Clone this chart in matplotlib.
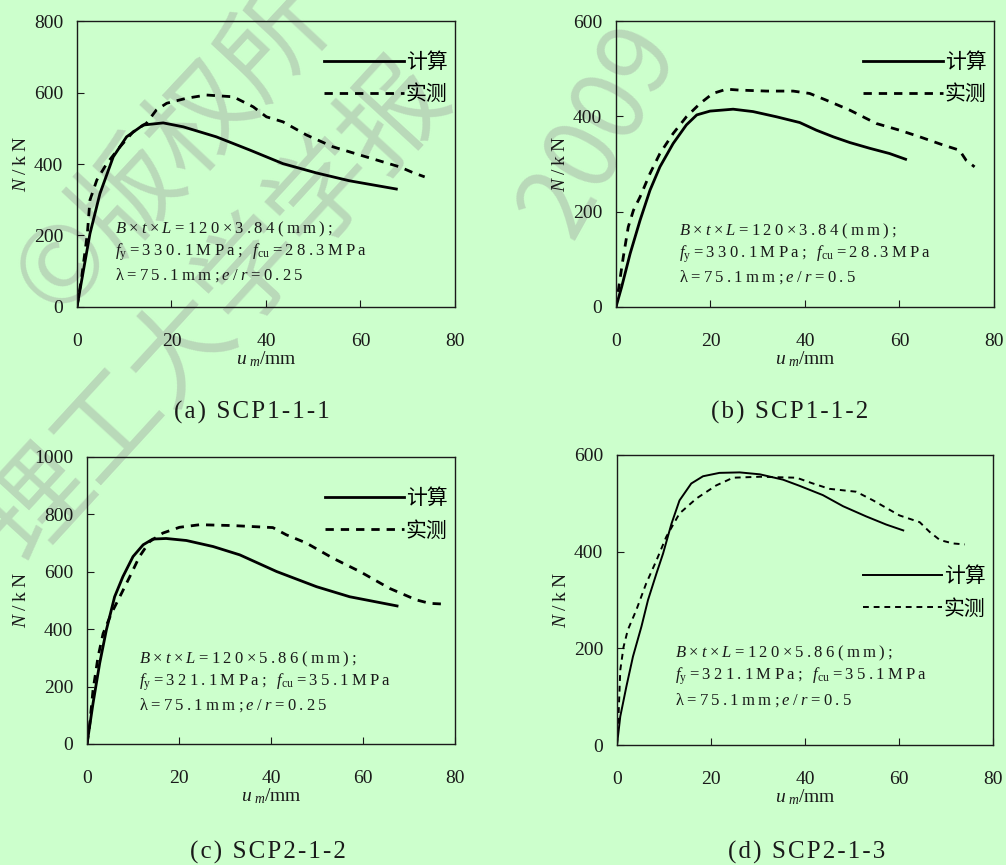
import re
import matplotlib
matplotlib.use("Agg")
import matplotlib.pyplot as plt

plt.rcParams['font.family'] = ['Liberation Serif', 'Noto Sans CJK SC']
plt.rcParams['mathtext.fontset'] = 'custom'
plt.rcParams['mathtext.rm'] = 'Liberation Serif'
plt.rcParams['mathtext.it'] = 'Liberation Serif:italic'
plt.rcParams['axes.unicode_minus'] = False

BG = '#ccffcc'
INK = '#1a1a1a'

# (a) SCP1-1-1
a_calc_x = [0, 2.75, 4.86, 7.68, 10.5, 14.0, 18.25, 22.5, 29.5, 36.6, 43.6, 50.7, 57.7, 67.6]
a_calc_y = [0, 205, 317, 420, 476, 509, 515, 504, 476, 439, 401, 375, 353, 330]
a_test_x = [0, 1.0, 2.2, 2.75, 4.2, 6.3, 9.1, 11.9, 14.7, 16.8, 19.0, 23.2, 27.4, 33.1, 37.3,
            40.1, 43.6, 48.6, 54.2, 61.2, 68.3, 71.1, 73.6]
a_test_y = [0, 84, 205, 299, 355, 401, 448, 490, 514, 551, 570, 584, 593, 588, 560,
            532, 518, 481, 448, 420, 392, 376, 364]

# (b) SCP1-1-2
b_calc_x = [0, 1.2, 3.0, 5.1, 7.2, 9.3, 12.1, 14.9, 17.1, 19.9, 24.8, 29.0, 34.0, 38.9,
            42.4, 46.0, 49.5, 53.7, 57.9, 61.3]
b_calc_y = [0, 42, 112, 182, 245, 294, 343, 382, 403, 411, 415, 410, 399, 387,
            371, 357, 345, 333, 322, 310]
b_test_x = [0, 0.5, 1.55, 2.6, 3.7, 5.1, 7.2, 9.3, 12.1, 14.9, 17.8, 20.5, 23.4, 26.2,
            31.9, 37.5, 41.0, 44.5, 49.5, 55.1, 60.0, 64.3, 69.2, 72.7, 74.1, 75.9]
b_test_y = [0, 35, 105, 168, 203, 231, 280, 322, 364, 399, 427, 448, 457, 455,
            453, 453, 448, 434, 413, 385, 371, 357, 340, 329, 308, 294]

# (c) SCP2-1-2
c_calc_x = [0, 1.3, 2.75, 4.2, 6.0, 7.8, 10.0, 12.2, 14.3, 17.2, 21.6, 27.4, 33.2, 41.2,
            49.9, 57.1, 67.4]
c_calc_y = [0, 141, 281, 397, 513, 583, 653, 694, 714, 716, 709, 688, 659, 601,
            548, 513, 481]
c_test_x = [0, 0.6, 1.3, 2.4, 3.5, 5.3, 7.5, 9.3, 11.4, 13.6, 16.5, 20.1, 24.5, 31.7,
            40.4, 43.3, 47.7, 53.5, 59.3, 65.8, 71.6, 74.5, 78.1]
c_test_y = [0, 71, 187, 304, 385, 455, 525, 583, 653, 705, 735, 755, 764, 761,
            754, 729, 700, 647, 601, 542, 502, 490, 487]

# (d) SCP2-1-3
d_calc_x = [0, 0.7, 2.0, 3.4, 5.2, 6.6, 8.4, 9.8, 11.6, 13.3, 15.8, 18.3, 21.8, 26.1,
            30.4, 35.3, 38.9, 43.8, 48.1, 53.0, 57.3, 60.9]
d_calc_y = [0, 59, 121, 183, 245, 300, 355, 396, 458, 506, 541, 556, 563, 564,
            560, 549, 536, 517, 494, 473, 456, 444]
d_test_x = [0, 0.35, 0.7, 1.4, 2.3, 4.1, 6.2, 8.4, 10.5, 13.3, 16.9, 21.1, 24.7, 30.4,
            38.2, 41.7, 45.2, 50.9, 54.5, 60.1, 64.4, 66.5, 68.7, 71.5, 74.0]
d_test_y = [0, 65, 155, 203, 238, 279, 334, 382, 431, 479, 510, 537, 553, 555,
            553, 541, 530, 524, 506, 475, 461, 441, 424, 417, 415]

captions = ['(a) SCP1-1-1', '(b) SCP1-1-2', '(c) SCP2-1-2', '(d) SCP2-1-3']
ymaxes = [800, 600, 1000, 600]
notes = [
    [r'$B$×$t$×$L$=120×3.84(mm);', r'$f_{\rm y}$=330.1MPa; $f_{\rm cu}$=28.3MPa', r'λ=75.1mm;$e$/$r$=0.25'],
    [r'$B$×$t$×$L$=120×3.84(mm);', r'$f_{\rm y}$=330.1MPa; $f_{\rm cu}$=28.3MPa', r'λ=75.1mm;$e$/$r$=0.5'],
    [r'$B$×$t$×$L$=120×5.86(mm);', r'$f_{\rm y}$=321.1MPa; $f_{\rm cu}$=35.1MPa', r'λ=75.1mm;$e$/$r$=0.25'],
    [r'$B$×$t$×$L$=120×5.86(mm);', r'$f_{\rm y}$=321.1MPa; $f_{\rm cu}$=35.1MPa', r'λ=75.1mm;$e$/$r$=0.5'],
]
calc = [(a_calc_x, a_calc_y), (b_calc_x, b_calc_y), (c_calc_x, c_calc_y), (d_calc_x, d_calc_y)]
test = [(a_test_x, a_test_y), (b_test_x, b_test_y), (c_test_x, c_test_y), (d_test_x, d_test_y)]

# layout (figure fractions) and text placement
rects = [[0.0765, 0.6451, 0.3757, 0.3306],
         [0.6123, 0.6451, 0.3757, 0.3306],
         [0.0865, 0.1399, 0.3658, 0.3318],
         [0.6133, 0.1387, 0.3738, 0.3353]]
note_x = [0.10, 0.167, 0.141, 0.154]
note_y = [[0.272, 0.192, 0.112], [0.265, 0.185, 0.105], [0.296, 0.216, 0.136], [0.317, 0.236, 0.156]]
leg_y = [0.80, 0.80, 0.80, 0.526]
cap_xy = [(252, 412), (790, 412), (268, 852), (807, 852)]
lws = [2.0, 2.0, 2.0, 1.4]


def track(s, sep='\u2009'):
    # loose letter spacing like the original typesetting; keeps $...$ pieces whole
    return sep.join(re.findall(r'\$[^$]*\$|.', s))


fig = plt.figure(figsize=(10.06, 8.65), dpi=100, facecolor=BG)

# watermark
wm = dict(color='#b9d9b9', family=['Noto Sans CJK SC', 'DejaVu Sans'], ha='center', va='center', zorder=-1)
fig.text(172 / 1006, 1 - 150 / 865, '©版权所', fontsize=76, rotation=47, **wm)
fig.text(218 / 1006, 1 - 310 / 865, '理工大学学报', fontsize=76, rotation=47.5, **wm)
fig.text(600 / 1006, 1 - 130 / 865, '2009', fontsize=72, rotation=61, **wm)

for i in range(4):
    ax = fig.add_axes(rects[i])
    ax.set_facecolor('none')
    ax.plot(calc[i][0], calc[i][1], '-', color='black', lw=lws[i], label='计算')
    ax.plot(test[i][0], test[i][1], '--', color='black', lw=lws[i], dashes=(3, 2.5), label='实测')
    ax.set_xlim(0, 80)
    ax.set_ylim(0, ymaxes[i])
    ax.set_xticks([0, 20, 40, 60, 80])
    ax.set_yticks(range(0, ymaxes[i] + 1, 200))
    ax.tick_params(direction='in', length=5, width=0.8, colors=INK, labelsize=14)
    ax.tick_params(axis='x', pad=19)
    ax.tick_params(axis='y', pad=10)
    for s in ax.spines.values():
        s.set_linewidth(1.0)
        s.set_color(INK)
    ax.set_xlabel(r'$u_{\ m}$/mm', fontsize=14, color=INK, labelpad=-1)
    ax.set_ylabel(track(r'$N$/kN'), fontsize=14, color=INK, labelpad=3)
    for j in range(3):
        ax.text(note_x[i], note_y[i][j], track(notes[i][j]), transform=ax.transAxes,
                fontsize=12, color=INK, ha='left', va='center')
    ax.legend(loc='center right', bbox_to_anchor=(0.98, leg_y[i]), frameon=False,
              prop={'family': ['Noto Sans CJK SC'], 'size': 15},
              handlelength=3.8, handletextpad=0.1, labelspacing=0.5,
              borderpad=0, borderaxespad=0)
    fig.text(cap_xy[i][0] / 1006, 1 - cap_xy[i][1] / 865, track(captions[i], '\u200a'),
             fontsize=18, color=INK, ha='center', va='center')

plt.savefig('out.png', dpi=100, facecolor=BG)
